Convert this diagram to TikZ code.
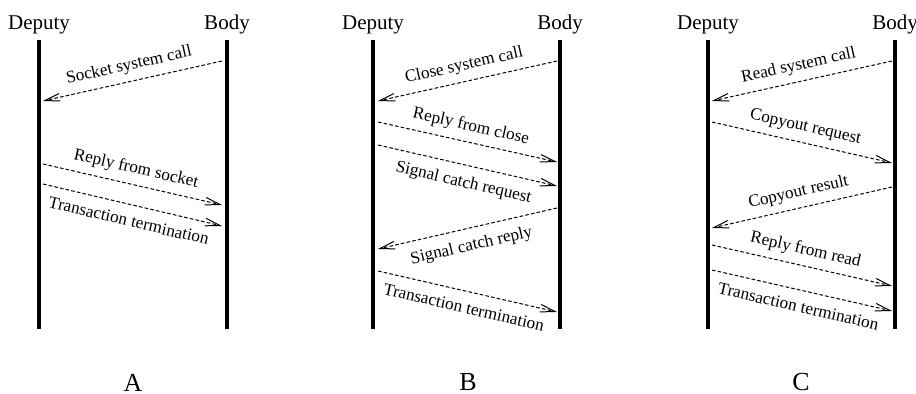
\documentclass[tikz,border=0pt]{standalone}
\usepackage{fontspec}
\setmainfont{Liberation Serif}
\usetikzlibrary{arrows.meta}

\begin{document}
\begin{tikzpicture}[x=0.5pt, y=-0.5pt,
	every node/.style={font=\fontsize{8.6}{10}\selectfont},
	>={Straight Barb[length=7.5pt, width=3.8pt]},
	lifeline/.style={line width=1.8pt},
	msg/.style={->, line width=0.5pt, dash pattern=on 1.8pt off 1.1pt},
	actor/.style={anchor=base, font=\fontsize{10.5}{12}\selectfont},
	panel/.style={font=\fontsize{13}{15}\selectfont},
	lblabove/.style={above=0.3pt},
	lblbelow/.style={below=1.6pt}]
	\useasboundingbox (0,0) rectangle (916,394);
	\foreach \p/\dx/\bx/\lx in {A/39/227/133, B/373/560/468, C/708/895/801} {
		\node[actor] (dep\p) at (\dx,29.3) {Deputy};
		\node[actor] (body\p) at (\bx,29.3) {Body};
		\coordinate (dtop\p) at (\dx,40);
		\coordinate (dbot\p) at (\dx,329);
		\coordinate (btop\p) at (\bx,40);
		\coordinate (bbot\p) at (\bx,329);
		\draw[lifeline] (dtop\p) -- (dbot\p);
		\draw[lifeline] (btop\p) -- (bbot\p);
		\node[panel] (lbl\p) at (\lx,382.5) {\p};
	}
	\foreach \n/\xa/\ya/\xb/\yb/\side/\txt in {
		1/222/61/43/101/lblabove/Socket system call,
		2/43/164/222/205/lblabove/Reply from socket,
		3/43/184/222/226/lblbelow/Transaction termination,
		4/557/61/378/101/lblabove/Close system call,
		5/378/122/557/162/lblabove/Reply from close,
		6/378/145/557/186/lblbelow/Signal catch request,
		7/557/208/378/249/lblbelow/Signal catch reply,
		8/378/271/557/312/lblbelow/Transaction termination,
		9/892/61/712/101/lblabove/Read system call,
		10/712/122/892/163/lblabove/Copyout request,
		11/892/187/712/228/lblabove/Copyout result,
		12/712/245/892/286/lblabove/Reply from read,
		13/712/270/892/311/lblbelow/Transaction termination} {
		\coordinate (m\n s) at (\xa,\ya);
		\coordinate (m\n e) at (\xb,\yb);
		\draw[msg] (m\n s) -- node[sloped, \side] {\txt} (m\n e);
	}
\end{tikzpicture}
\end{document}
